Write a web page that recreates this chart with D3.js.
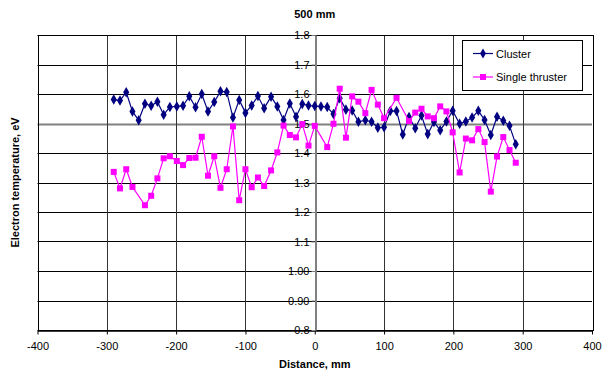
<!DOCTYPE html>
<html><head><meta charset="utf-8">
<script src="https://cdn.jsdelivr.net/npm/d3@7"></script>
<style>body{margin:0;background:#fff}svg{display:block;font-family:Arial,"Liberation Sans",sans-serif}</style>
</head><body><svg id="c" width="604" height="372"></svg>
<script>
const title = "500 mm";
const xLabel = "Distance, mm";
const yLabel = "Electron temperature, eV";
const xTicks = [-400,-300,-200,-100,0,100,200,300,400];
const yTicks = [0.8,0.9,1.0,1.1,1.2,1.3,1.4,1.5,1.6,1.7,1.8];
const yTickLabels = ["0.8","0.90","1.00","1.1","1.2","1.3","1.4","1.5","1.6","1.7","1.8"];
const seriesNames = ["Cluster","Single thruster"];

const clusterX = [-290,-281,-272,-263,-254,-245,-236,-227,-218,-209,-199,-190,-181,-172,-163,-154,-145,-136,-127,-118,-109,-100,-91,-82,-73,-63,-54,-45,-36,-27,-18,-9,0,9,18,27,36,45,54,63,73,82,91,100,109,118,127,136,145,154,163,172,181,190,199,209,218,227,236,245,254,263,272,281,290];
const clusterY = [1.581,1.578,1.606,1.541,1.511,1.567,1.560,1.574,1.530,1.556,1.558,1.560,1.592,1.555,1.600,1.541,1.573,1.609,1.607,1.520,1.580,1.536,1.561,1.593,1.552,1.591,1.558,1.512,1.568,1.523,1.566,1.561,1.559,1.558,1.556,1.532,1.586,1.547,1.544,1.506,1.511,1.506,1.486,1.487,1.542,1.542,1.463,1.522,1.484,1.527,1.464,1.505,1.477,1.507,1.543,1.499,1.507,1.520,1.543,1.512,1.461,1.523,1.509,1.492,1.430];

const singleX = [-290,-281,-272,-263,-245,-236,-227,-218,-209,-199,-190,-181,-172,-163,-154,-145,-136,-127,-118,-109,-100,-91,-82,-73,-63,-54,-45,-36,-27,-18,-9,0,18,27,36,45,54,63,73,82,91,100,118,136,145,154,163,172,181,190,199,209,218,227,236,245,254,263,272,281,290];
const singleY = [1.336,1.280,1.345,1.285,1.223,1.255,1.314,1.382,1.389,1.373,1.359,1.383,1.384,1.455,1.323,1.389,1.282,1.345,1.490,1.240,1.345,1.284,1.317,1.288,1.341,1.402,1.493,1.461,1.453,1.498,1.425,1.492,1.420,1.499,1.618,1.452,1.592,1.574,1.535,1.614,1.564,1.518,1.587,1.508,1.537,1.550,1.524,1.518,1.558,1.541,1.470,1.334,1.449,1.443,1.481,1.437,1.269,1.388,1.454,1.410,1.367];

const svg = d3.select("#c");
const L = 37.5, R = 592, T = 35, B = 330;
const x = d3.scaleLinear().domain([-400,400]).range([L,R]);
const y = d3.scaleLinear().domain([0.8,1.8]).range([B,T]);

// horizontal gridlines
svg.append("g").selectAll("line").data(yTicks).join("line")
  .attr("x1",L).attr("x2",R).attr("y1",d=>Math.round(y(d))+0.5).attr("y2",d=>Math.round(y(d))+0.5)
  .attr("stroke",d=>Math.abs(d-1.5)<1e-6?"#808080":"#000")
  .attr("stroke-width",d=>Math.abs(d-1.5)<1e-6?2:1);
// vertical gridlines
svg.append("g").selectAll("line").data(xTicks.filter(d=>d!==0&&Math.abs(d)!==400)).join("line")
  .attr("y1",T).attr("y2",B).attr("x1",d=>Math.round(x(d))+0.5).attr("x2",d=>Math.round(x(d))+0.5)
  .attr("stroke","#333").attr("stroke-width",1);
// border
svg.append("rect").attr("x",Math.round(L)+0.5).attr("y",T+0.5).attr("width",Math.round(R-L)).attr("height",B-T)
  .attr("fill","none").attr("stroke","#000").attr("stroke-width",1);

// x axis
const xAxis = d3.axisBottom(x).tickValues(xTicks).tickSize(4).tickSizeOuter(0).tickFormat(d3.format("d"));
const gx = svg.append("g").attr("transform",`translate(0,${B+0.5})`).call(xAxis);
gx.select(".domain").attr("stroke","#000").attr("stroke-width",1.5);
gx.selectAll(".tick line").attr("stroke","#000");
gx.selectAll("text").attr("font-size",11).attr("fill","#000").attr("dy","1.15em").text(d=>d<0?"-"+Math.abs(d):d);

// y axis at x=0
const yAxis = d3.axisLeft(y).tickValues(yTicks).tickSize(4).tickSizeOuter(0).tickFormat((d,i)=>yTickLabels[i]);
const gy = svg.append("g").attr("transform",`translate(${Math.round(x(0))+0.5},0)`).call(yAxis);
gy.select(".domain").attr("stroke","#808080").attr("stroke-width",2);
gy.selectAll(".tick line").attr("stroke","#808080");
gy.selectAll("text").attr("font-size",11).attr("fill","#000").attr("x",-6);

// series
const cData = clusterX.map((d,i)=>[d,clusterY[i]]);
const sData = singleX.map((d,i)=>[d,singleY[i]]);
const line = d3.line().x(d=>x(d[0])).y(d=>y(d[1]));
svg.append("path").datum(cData).attr("d",line).attr("fill","none").attr("stroke","#000080").attr("stroke-width",1.2);
svg.append("g").selectAll("path").data(cData).join("path")
  .attr("d",d3.symbol(d3.symbolDiamond,32)).attr("transform",d=>`translate(${x(d[0])},${y(d[1])})`).attr("fill","#000080");
svg.append("path").datum(sData).attr("d",line).attr("fill","none").attr("stroke","#FF00FF").attr("stroke-width",1.2);
svg.append("g").selectAll("rect").data(sData).join("rect")
  .attr("x",d=>x(d[0])-3).attr("y",d=>y(d[1])-3).attr("width",6).attr("height",6).attr("fill","#FF00FF");

// title and labels
svg.append("text").attr("x",x(0)).attr("y",18).attr("text-anchor","middle").attr("font-size",11).attr("font-weight","bold").text(title);
svg.append("text").attr("x",x(0)).attr("y",368).attr("text-anchor","middle").attr("font-size",11).attr("font-weight","bold").text(xLabel);
svg.append("text").attr("transform",`translate(19,${(T+B)/2}) rotate(-90)`).attr("text-anchor","middle").attr("font-size",11).attr("font-weight","bold").text(yLabel);

// legend
const lg = svg.append("g");
lg.append("rect").attr("x",462.5).attr("y",40.5).attr("width",120).attr("height",50).attr("fill","#fff").attr("stroke","#000");
const items = [{c:"#000080",sym:"d"},{c:"#FF00FF",sym:"s"}];
items.forEach((it,i)=>{
  const yy = 53.5 + i*23.5;
  lg.append("line").attr("x1",473).attr("x2",493).attr("y1",yy).attr("y2",yy).attr("stroke",it.c).attr("stroke-width",1.2);
  if(it.sym==="d") lg.append("path").attr("d",d3.symbol(d3.symbolDiamond,30)).attr("transform",`translate(483,${yy})`).attr("fill",it.c);
  else lg.append("rect").attr("x",480).attr("y",yy-3).attr("width",6).attr("height",6).attr("fill",it.c);
  lg.append("text").attr("x",496).attr("y",yy+4).attr("font-size",11).text(seriesNames[i]);
});
</script></body></html>
